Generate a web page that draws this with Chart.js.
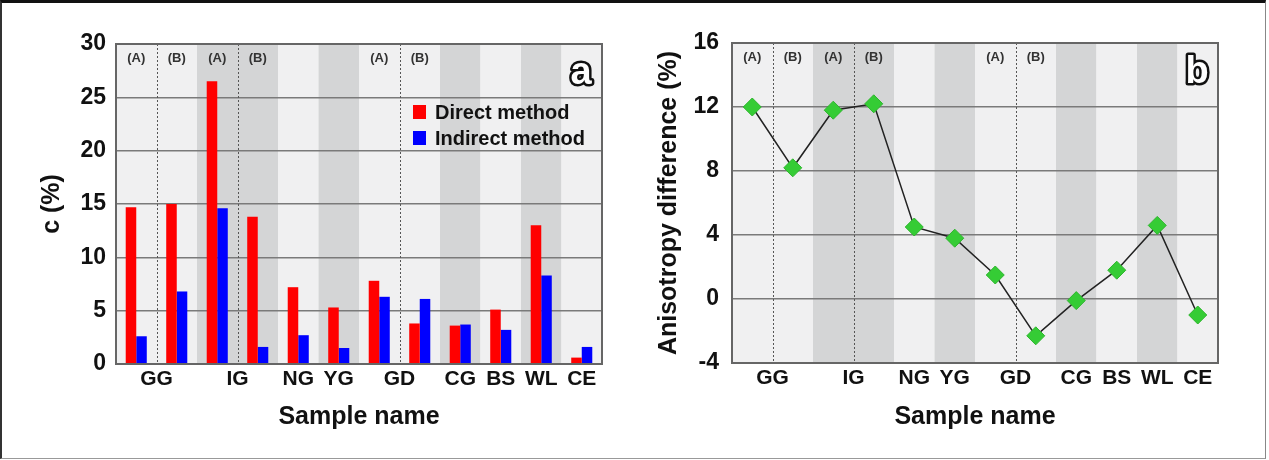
<!DOCTYPE html>
<html>
<head>
<meta charset="utf-8">
<script src="https://cdn.jsdelivr.net/npm/chart.js@4.4.1/dist/chart.umd.min.js"></script>
<style>
  body { margin: 0; background: #fff; }
  #frame { position: absolute; left: 0; top: 0; width: 1266px; height: 459px; box-sizing: border-box;
           border-top: 3px solid #111; border-left: 2px solid #333; border-right: 1px solid #888; border-bottom: 1px solid #999; }
  .panel { position: absolute; top: 0; height: 460px; }
  #panelA { left: 0; width: 630px; }
  #panelB { left: 630px; width: 639px; }
</style>
</head>
<body>
<div id="frame"></div>
<div class="panel" id="panelA"><canvas id="chartA"></canvas></div>
<div class="panel" id="panelB"><canvas id="chartB"></canvas></div>
<script>
// Samples (one column per sample, A/B sub-samples for GG, IG, GD)
const categories = ['GG (A)', 'GG (B)', 'IG (A)', 'IG (B)', 'NG', 'YG', 'GD (A)', 'GD (B)', 'CG', 'BS', 'WL', 'CE'];
const subLabels = ['(A)', '(B)', '(A)', '(B)', '', '', '(A)', '(B)', '', '', '', ''];
const groupNames = ['GG', 'IG', 'NG', 'YG', 'GD', 'CG', 'BS', 'WL', 'CE'];
const groupStart = [0, 2, 4, 5, 6, 8, 9, 10, 11];
const groupSize = [2, 2, 1, 1, 2, 1, 1, 1, 1];

// Panel a: c (%)
const directMethod = [14.7, 15.0, 26.5, 13.8, 7.2, 5.3, 7.8, 3.8, 3.6, 5.1, 13.0, 0.6];
const indirectMethod = [2.6, 6.8, 14.6, 1.6, 2.7, 1.5, 6.3, 6.1, 3.7, 3.2, 8.3, 1.6];
const cTicks = [0, 5, 10, 15, 20, 25, 30];

// Panel b: anisotropy difference (%)
const anisotropyDiff = [12.0, 8.2, 11.8, 12.2, 4.5, 3.8, 1.5, -2.3, -0.1, 1.8, 4.6, -1.0];
const anisoTicks = [-4, 0, 4, 8, 12, 16];

const FONT = "'Liberation Sans', Arial, Helvetica, sans-serif";
Chart.defaults.font.family = FONT;
Chart.defaults.color = '#111';

// Background bands, A/B dividers, sub labels, group labels, frame
const samplePlugin = {
    id: 'samplePlugin',
    beforeDraw(chart) {
        const ctx = chart.ctx;
        const area = chart.chartArea;
        const x = chart.scales.x;
        const half = (x.getPixelForValue(1) - x.getPixelForValue(0)) / 2;
        ctx.save();
        groupStart.forEach((start, g) => {
            const x0 = x.getPixelForValue(start) - half;
            const x1 = x.getPixelForValue(start + groupSize[g] - 1) + half;
            ctx.fillStyle = g % 2 === 0 ? '#f0f0f1' : '#d4d5d6';
            ctx.fillRect(x0, area.top, x1 - x0, area.bottom - area.top);
        });
        ctx.restore();
    },
    beforeDatasetsDraw(chart) {
        const ctx = chart.ctx;
        const area = chart.chartArea;
        const x = chart.scales.x;
        ctx.save();
        // dotted dividers between (A) and (B)
        ctx.strokeStyle = '#555';
        ctx.lineWidth = 1;
        ctx.setLineDash([2, 2]);
        groupStart.forEach((start, g) => {
            if (groupSize[g] < 2) return;
            const xm = Math.round((x.getPixelForValue(start) + x.getPixelForValue(start + 1)) / 2) + 0.5;
            ctx.beginPath();
            ctx.moveTo(xm, area.top);
            ctx.lineTo(xm, area.bottom);
            ctx.stroke();
        });
        ctx.setLineDash([]);
        // (A) / (B) labels
        ctx.fillStyle = '#333';
        ctx.font = 'bold 13px ' + FONT;
        ctx.textAlign = 'center';
        ctx.textBaseline = 'middle';
        subLabels.forEach((s, i) => {
            if (s) ctx.fillText(s, x.getPixelForValue(i), area.top + 14);
        });
        ctx.restore();
    },
    afterDraw(chart) {
        const ctx = chart.ctx;
        const area = chart.chartArea;
        const x = chart.scales.x;
        ctx.save();
        ctx.strokeStyle = '#666';
        ctx.lineWidth = 2;
        ctx.strokeRect(area.left, area.top, area.right - area.left, area.bottom - area.top);
        // group names under the axis
        ctx.fillStyle = '#111';
        ctx.font = 'bold 21px ' + FONT;
        ctx.textAlign = 'center';
        ctx.textBaseline = 'alphabetic';
        groupStart.forEach((start, g) => {
            const xc = (x.getPixelForValue(start) + x.getPixelForValue(start + groupSize[g] - 1)) / 2;
            ctx.fillText(groupNames[g], xc, area.bottom + 21);
        });
        // panel letter
        const letter = chart.options.plugins.samplePlugin.letter;
        ctx.font = 'bold 38px ' + FONT;
        ctx.textBaseline = 'middle';
        ctx.lineJoin = 'round';
        ctx.lineWidth = 5;
        ctx.strokeStyle = '#111';
        ctx.strokeText(letter, area.right - 21, area.top + 30);
        ctx.fillStyle = '#fff';
        ctx.fillText(letter, area.right - 21, area.top + 30);
        ctx.restore();
    }
};

// Legend drawn inside panel a
const insideLegend = {
    id: 'insideLegend',
    afterDatasetsDraw(chart) {
        const ctx = chart.ctx;
        const area = chart.chartArea;
        ctx.save();
        ctx.font = 'bold 20px ' + FONT;
        ctx.textAlign = 'left';
        ctx.textBaseline = 'middle';
        chart.data.datasets.forEach((ds, i) => {
            const y = area.top + 68 + i * 26;
            ctx.fillStyle = ds.backgroundColor;
            ctx.fillRect(area.left + 297, y - 7, 13, 14);
            ctx.fillStyle = '#111';
            ctx.fillText(ds.label, area.left + 319, y + 1);
        });
        ctx.restore();
    }
};

function yAxis(min, max, step, title, width, tickPad, titlePad) {
    return {
        min: min,
        max: max,
        afterFit: s => { s.width = width; },
        afterBuildTicks: s => { s.ticks = (min === 0 ? cTicks : anisoTicks).map(v => ({ value: v })); },
        ticks: { stepSize: step, padding: tickPad, color: '#111', font: { size: 23, weight: 'bold' } },
        grid: { color: '#7a7a7a', lineWidth: 1.5, drawTicks: false },
        border: { display: true, color: '#555', width: 2 },
        title: { display: true, text: title, color: '#111', font: { size: 25, weight: 'bold' }, padding: { top: titlePad, bottom: 0 } }
    };
}

function xAxis(height) {
    return {
        offset: true,
        afterFit: s => { s.height = height; },
        ticks: { display: false },
        grid: { display: false, drawTicks: false },
        border: { display: true, color: '#555', width: 2 },
        title: { display: true, text: 'Sample name', color: '#111', font: { size: 25, weight: 'bold' }, padding: { top: 0, bottom: 28 } }
    };
}

new Chart(document.getElementById('chartA'), {
    type: 'bar',
    data: {
        labels: categories,
        datasets: [
            { label: 'Direct method', data: directMethod, backgroundColor: '#ff0000', borderWidth: 0, categoryPercentage: 0.52, barPercentage: 1.0 },
            { label: 'Indirect method', data: indirectMethod, backgroundColor: '#0000ff', borderWidth: 0, categoryPercentage: 0.52, barPercentage: 1.0 }
        ]
    },
    options: {
        responsive: true,
        maintainAspectRatio: false,
        animation: false,
        layout: { padding: { left: 0, right: 28, top: 44, bottom: 0 } },
        plugins: { legend: { display: false }, tooltip: { enabled: false }, samplePlugin: { letter: 'a' } },
        scales: { x: xAxis(96), y: yAxis(0, 30, 5, 'c (%)', 116, 10, 37) }
    },
    plugins: [samplePlugin, insideLegend]
});

new Chart(document.getElementById('chartB'), {
    type: 'line',
    data: {
        labels: categories,
        datasets: [{
            label: 'Anisotropy difference',
            data: anisotropyDiff,
            borderColor: '#222',
            borderWidth: 1.5,
            pointStyle: 'rectRot',
            pointRadius: 9,
            pointBackgroundColor: '#35cc35',
            pointBorderColor: '#2db52d',
            pointBorderWidth: 1,
            tension: 0
        }]
    },
    options: {
        responsive: true,
        maintainAspectRatio: false,
        animation: false,
        layout: { padding: { left: 0, right: 51, top: 43, bottom: 0 } },
        plugins: { legend: { display: false }, tooltip: { enabled: false }, samplePlugin: { letter: 'b' } },
        scales: { x: xAxis(97), y: yAxis(-4, 16, 4, 'Anisotropy difference (%)', 102, 13, 24) }
    },
    plugins: [samplePlugin]
});
</script>
</body>
</html>
